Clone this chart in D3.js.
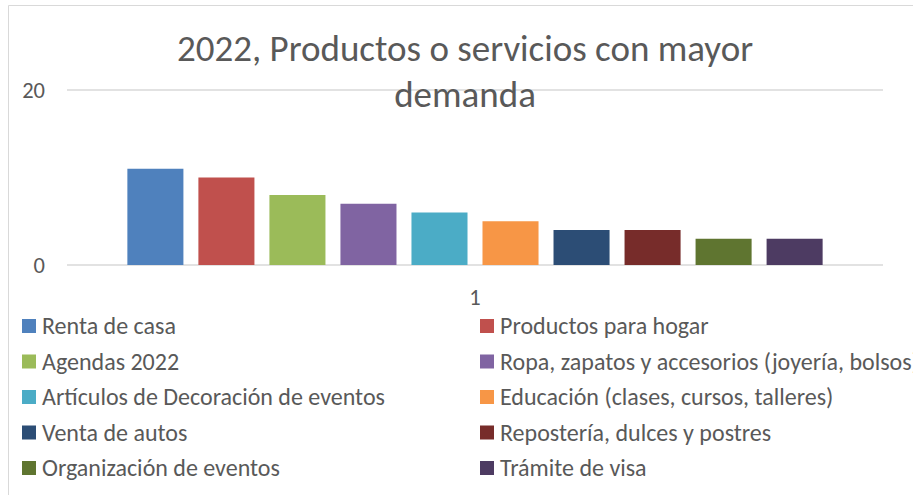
<!DOCTYPE html>
<html>
<head>
<meta charset="utf-8">
<script src="https://cdn.jsdelivr.net/npm/d3@7/dist/d3.min.js"></script>
<style>
  body { margin: 0; background: #fff; }
  svg { display: block; }
  text { font-family: Carlito, Calibri, "Open Sans", sans-serif; fill: #595959; }
</style>
</head>
<body>
<svg id="chart" width="913" height="495"></svg>
<script>
const categories = ['1']
const series = [
  'Renta de casa',
  'Productos para hogar',
  'Agendas 2022',
  'Ropa, zapatos y accesorios (joyería, bolsos)',
  'Artículos de Decoración de eventos',
  'Educación (clases, cursos, talleres)',
  'Venta de autos',
  'Repostería, dulces y postres',
  'Organización de eventos',
  'Trámite de visa'
]
const values = [11, 10, 8, 7, 6, 5, 4, 4, 3, 3]
const colors = ['#4F81BD', '#C0504D', '#9BBB59', '#8064A2', '#4BACC6',
  '#F79646', '#2C4D75', '#772C2A', '#5F7530', '#4D3B62']
const yTicks = [0, 20]
const titleLines = ['2022, Productos o servicios con mayor', 'demanda']

const svg = d3.select('#chart')
const plot = { left: 67, right: 883, top: 90, bottom: 265 }

// chart frame (only top and left edges are visible in the crop)
svg.append('path')
  .attr('d', 'M8.5,495 V5.5 H913')
  .attr('fill', 'none')
  .attr('stroke', '#d9d9d9')
  .attr('stroke-width', 1)

const x0 = d3.scaleBand()
  .domain(categories)
  .range([plot.left, plot.right])
  .padding(0)
const x1 = d3.scaleBand()
  .domain(series)
  .range([0, x0.bandwidth()])
  .paddingInner(0.211)
  .paddingOuter(0.85)
const y = d3.scaleLinear()
  .domain([0, 20])
  .range([plot.bottom, plot.top])

// gridlines
svg.append('g')
  .selectAll('line')
  .data(yTicks)
  .join('line')
  .attr('x1', plot.left)
  .attr('x2', plot.right)
  .attr('y1', d => y(d))
  .attr('y2', d => y(d))
  .attr('stroke', '#d9d9d9')
  .attr('stroke-width', 1.5)

// y labels
svg.append('g')
  .selectAll('text')
  .data(yTicks)
  .join('text')
  .attr('x', 45)
  .attr('y', d => y(d))
  .attr('dy', '0.35em')
  .attr('text-anchor', 'end')
  .style('font-size', '22.5px')
  .text(d => d)

// bars
const groups = svg.append('g')
  .selectAll('g')
  .data(categories)
  .join('g')
  .attr('transform', d => `translate(${x0(d)},0)`)
groups.selectAll('rect')
  .data(() => series.map((s, i) => ({ s, v: values[i], c: colors[i] })))
  .join('rect')
  .attr('x', d => x1(d.s))
  .attr('width', x1.bandwidth())
  .attr('y', d => y(d.v))
  .attr('height', d => y(0) - y(d.v))
  .attr('fill', d => d.c)

// category label
svg.append('g')
  .selectAll('text')
  .data(categories)
  .join('text')
  .attr('x', d => x0(d) + x0.bandwidth() / 2)
  .attr('y', 297)
  .attr('dy', '0.35em')
  .attr('text-anchor', 'middle')
  .style('font-size', '22.5px')
  .text(d => d)

// title
svg.append('g')
  .selectAll('text')
  .data(titleLines)
  .join('text')
  .attr('x', 465)
  .attr('y', (d, i) => 61 + i * 46)
  .attr('text-anchor', 'middle')
  .style('font-size', '37px')
  .text(d => d)

// legend
const legend = svg.append('g')
  .selectAll('g')
  .data(series)
  .join('g')
  .attr('transform', (d, i) => `translate(${i % 2 ? 480 : 22},${326 + Math.floor(i / 2) * 35.5})`)
legend.append('rect')
  .attr('x', 0)
  .attr('y', -7)
  .attr('width', 14)
  .attr('height', 14)
  .attr('fill', (d, i) => colors[i])
legend.append('text')
  .attr('x', 20)
  .attr('y', 0)
  .attr('dy', '0.35em')
  .style('font-size', '24px')
  .text(d => d)
</script>
</body>
</html>
